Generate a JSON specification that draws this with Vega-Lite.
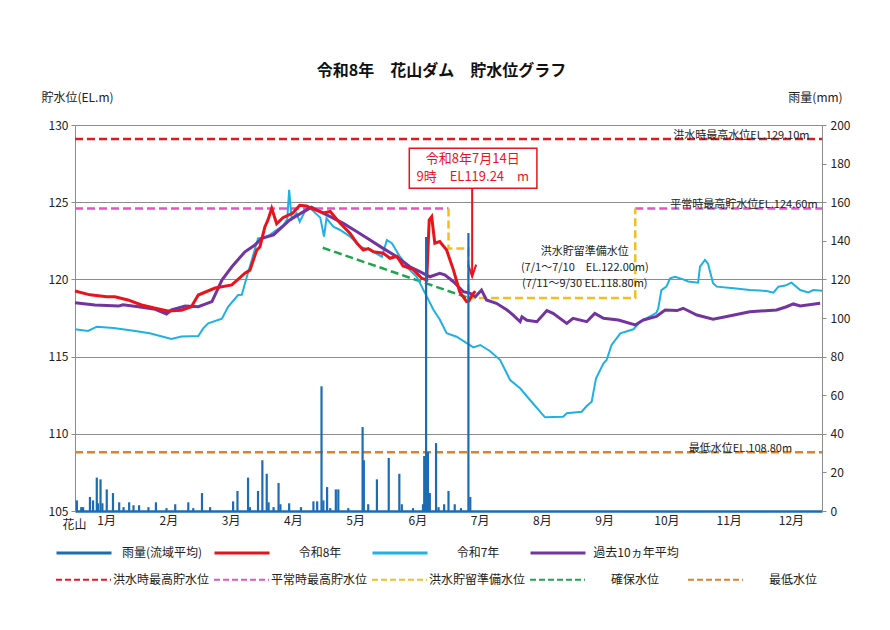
{
  "$schema": "https://vega.github.io/schema/vega-lite/v6.json",
  "width": 747,
  "height": 386,
  "autosize": {"type": "none"},
  "padding": {"left": 75, "top": 125, "right": 68, "bottom": 119},
  "background": "white",
  "title": {"text": "令和8年　花山ダム　貯水位グラフ", "font": "Noto Sans CJK JP", "fontSize": 16, "fontWeight": "bold", "color": "#111", "offset": 12, "dx": -7},
  "config": {"view": {"stroke": null}, "font": "Noto Sans CJK JP"},
  "datasets": {
    "lv": [
      {"s":"令和7年","t":0,"v":116.77},{"s":"令和7年","t":0.21,"v":116.66},{"s":"令和7年","t":0.35,"v":116.94},{"s":"令和7年","t":0.62,"v":116.85},{"s":"令和7年","t":0.94,"v":116.68},{"s":"令和7年","t":1.2,"v":116.51},{"s":"令和7年","t":1.55,"v":116.14},{"s":"令和7年","t":1.71,"v":116.3},{"s":"令和7年","t":1.98,"v":116.33},{"s":"令和7年","t":2.06,"v":116.83},{"s":"令和7年","t":2.14,"v":117.15},{"s":"令和7年","t":2.36,"v":117.45},{"s":"令和7年","t":2.46,"v":118.23},{"s":"令和7年","t":2.62,"v":118.99},{"s":"令和7年","t":2.68,"v":119.0},{"s":"令和7年","t":2.76,"v":120.17},{"s":"令和7年","t":2.84,"v":121.26},{"s":"令和7年","t":2.94,"v":122.66},{"s":"令和7年","t":3.05,"v":122.73},{"s":"令和7年","t":3.13,"v":122.88},{"s":"令和7年","t":3.35,"v":123.52},{"s":"令和7年","t":3.41,"v":123.9},{"s":"令和7年","t":3.44,"v":125.8},{"s":"令和7年","t":3.48,"v":123.9},{"s":"令和7年","t":3.56,"v":124.28},{"s":"令和7年","t":3.61,"v":123.74},{"s":"令和7年","t":3.69,"v":124.38},{"s":"令和7年","t":3.78,"v":124.6},{"s":"令和7年","t":3.94,"v":124.0},{"s":"令和7年","t":4.0,"v":122.77},{"s":"令和7年","t":4.04,"v":123.96},{"s":"令和7年","t":4.15,"v":123.41},{"s":"令和7年","t":4.26,"v":123.2},{"s":"令和7年","t":4.42,"v":122.77},{"s":"令和7年","t":4.58,"v":122.12},{"s":"令和7年","t":4.74,"v":121.9},{"s":"令和7年","t":4.93,"v":121.47},{"s":"令和7年","t":5.01,"v":122.55},{"s":"令和7年","t":5.09,"v":122.34},{"s":"令和7年","t":5.22,"v":121.47},{"s":"令和7年","t":5.38,"v":120.6},{"s":"令和7年","t":5.49,"v":120.17},{"s":"令和7年","t":5.65,"v":118.9},{"s":"令和7年","t":5.76,"v":118.02},{"s":"令和7年","t":5.86,"v":117.4},{"s":"令和7年","t":5.97,"v":116.51},{"s":"令和7年","t":6.13,"v":116.29},{"s":"令和7年","t":6.4,"v":115.6},{"s":"令和7年","t":6.51,"v":115.75},{"s":"令和7年","t":6.67,"v":115.35},{"s":"令和7年","t":6.83,"v":114.78},{"s":"令和7年","t":6.99,"v":113.48},{"s":"令和7年","t":7.15,"v":112.95},{"s":"令和7年","t":7.31,"v":112.19},{"s":"令和7年","t":7.55,"v":111.07},{"s":"令和7年","t":7.84,"v":111.11},{"s":"令和7年","t":7.9,"v":111.33},{"s":"令和7年","t":8.14,"v":111.43},{"s":"令和7年","t":8.22,"v":111.8},{"s":"令和7年","t":8.3,"v":112.08},{"s":"令和7年","t":8.37,"v":113.59},{"s":"令和7年","t":8.49,"v":114.57},{"s":"令和7年","t":8.54,"v":114.78},{"s":"令和7年","t":8.62,"v":115.75},{"s":"令和7年","t":8.76,"v":116.51},{"s":"令和7年","t":8.97,"v":116.77},{"s":"令和7年","t":9.08,"v":117.26},{"s":"令和7年","t":9.34,"v":117.84},{"s":"令和7年","t":9.37,"v":118.13},{"s":"令和7年","t":9.42,"v":119.31},{"s":"令和7年","t":9.5,"v":119.53},{"s":"令和7年","t":9.56,"v":120.07},{"s":"令和7年","t":9.64,"v":120.17},{"s":"令和7年","t":9.77,"v":120.0},{"s":"令和7年","t":9.85,"v":119.87},{"s":"令和7年","t":10.01,"v":119.79},{"s":"令和7年","t":10.04,"v":120.82},{"s":"令和7年","t":10.12,"v":121.26},{"s":"令和7年","t":10.17,"v":121.0},{"s":"令和7年","t":10.25,"v":119.75},{"s":"令和7年","t":10.31,"v":119.53},{"s":"令和7年","t":10.58,"v":119.42},{"s":"令和7年","t":10.84,"v":119.31},{"s":"令和7年","t":11.11,"v":119.25},{"s":"令和7年","t":11.22,"v":119.14},{"s":"令和7年","t":11.3,"v":119.53},{"s":"令和7年","t":11.41,"v":119.6},{"s":"令和7年","t":11.51,"v":119.79},{"s":"令和7年","t":11.65,"v":119.31},{"s":"令和7年","t":11.78,"v":119.16},{"s":"令和7年","t":11.86,"v":119.31},{"s":"令和7年","t":12,"v":119.27},
      {"s":"過去10ヵ年平均","t":0,"v":118.49},{"s":"過去10ヵ年平均","t":0.32,"v":118.34},{"s":"過去10ヵ年平均","t":0.7,"v":118.27},{"s":"過去10ヵ年平均","t":0.77,"v":118.35},{"s":"過去10ヵ年平均","t":1.02,"v":118.23},{"s":"過去10ヵ年平均","t":1.29,"v":118.06},{"s":"過去10ヵ年平均","t":1.47,"v":117.76},{"s":"過去10ヵ年平均","t":1.55,"v":118.02},{"s":"過去10ヵ年平均","t":1.77,"v":118.28},{"s":"過去10ヵ年平均","t":1.98,"v":118.23},{"s":"過去10ヵ年平均","t":2.2,"v":118.56},{"s":"過去10ヵ年平均","t":2.36,"v":119.96},{"s":"過去10ヵ年平均","t":2.52,"v":120.82},{"s":"過去10ヵ年平均","t":2.73,"v":121.79},{"s":"過去10ヵ年平均","t":2.89,"v":122.23},{"s":"過去10ヵ年平均","t":3.0,"v":122.66},{"s":"過去10ヵ年平均","t":3.19,"v":122.88},{"s":"過去10ヵ年平均","t":3.45,"v":123.85},{"s":"過去10ヵ年平均","t":3.72,"v":124.5},{"s":"過去10ヵ年平均","t":3.8,"v":124.67},{"s":"過去10ヵ年平均","t":3.94,"v":124.38},{"s":"過去10ヵ年平均","t":4.1,"v":124.06},{"s":"過去10ヵ年平均","t":4.31,"v":123.63},{"s":"過去10ヵ年平均","t":4.53,"v":123.09},{"s":"過去10ヵ年平均","t":4.74,"v":122.55},{"s":"過去10ヵ年平均","t":4.95,"v":122.01},{"s":"過去10ヵ年平均","t":5.17,"v":121.47},{"s":"過去10ヵ年平均","t":5.38,"v":120.82},{"s":"過去10ヵ年平均","t":5.54,"v":120.5},{"s":"過去10ヵ年平均","t":5.7,"v":120.17},{"s":"過去10ヵ年平均","t":5.86,"v":120.39},{"s":"過去10ヵ年平均","t":5.94,"v":120.3},{"s":"過去10ヵ年平均","t":6.08,"v":119.85},{"s":"過去10ヵ年平均","t":6.24,"v":119.2},{"s":"過去10ヵ年平均","t":6.35,"v":119.1},{"s":"過去10ヵ年平均","t":6.43,"v":118.88},{"s":"過去10ヵ年平均","t":6.53,"v":119.31},{"s":"過去10ヵ年平均","t":6.61,"v":118.67},{"s":"過去10ヵ年平均","t":6.77,"v":118.45},{"s":"過去10ヵ年平均","t":6.94,"v":118.02},{"s":"過去10ヵ年平均","t":7.04,"v":117.69},{"s":"過去10ヵ年平均","t":7.15,"v":117.26},{"s":"過去10ヵ年平均","t":7.18,"v":117.58},{"s":"過去10ヵ年平均","t":7.26,"v":117.35},{"s":"過去10ヵ年平均","t":7.42,"v":117.26},{"s":"過去10ヵ年平均","t":7.58,"v":117.98},{"s":"過去10ヵ年平均","t":7.68,"v":117.8},{"s":"過去10ヵ年平均","t":7.9,"v":117.15},{"s":"過去10ヵ年平均","t":8.0,"v":117.48},{"s":"過去10ヵ年平均","t":8.22,"v":117.26},{"s":"過去10ヵ年平均","t":8.35,"v":117.8},{"s":"過去10ヵ年平均","t":8.49,"v":117.48},{"s":"過去10ヵ年平均","t":8.73,"v":117.37},{"s":"過去10ヵ年平均","t":9.0,"v":117.05},{"s":"過去10ヵ年平均","t":9.13,"v":117.37},{"s":"過去10ヵ年平均","t":9.34,"v":117.6},{"s":"過去10ヵ年平均","t":9.48,"v":118.02},{"s":"過去10ヵ年平均","t":9.67,"v":117.98},{"s":"過去10ヵ年平均","t":9.77,"v":118.13},{"s":"過去10ヵ年平均","t":9.99,"v":117.69},{"s":"過去10ヵ年平均","t":10.25,"v":117.42},{"s":"過去10ヵ年平均","t":10.47,"v":117.6},{"s":"過去10ヵ年平均","t":10.84,"v":117.91},{"s":"過去10ヵ年平均","t":11.27,"v":118.02},{"s":"過去10ヵ年平均","t":11.43,"v":118.23},{"s":"過去10ヵ年平均","t":11.54,"v":118.41},{"s":"過去10ヵ年平均","t":11.65,"v":118.28},{"s":"過去10ヵ年平均","t":11.97,"v":118.45},
      {"s":"令和8年","t":0,"v":119.25},{"s":"令和8年","t":0.24,"v":119.0},{"s":"令和8年","t":0.51,"v":118.88},{"s":"令和8年","t":0.64,"v":118.88},{"s":"令和8年","t":0.85,"v":118.67},{"s":"令和8年","t":1.07,"v":118.34},{"s":"令和8年","t":1.29,"v":118.13},{"s":"令和8年","t":1.49,"v":117.95},{"s":"令和8年","t":1.71,"v":118.0},{"s":"令和8年","t":1.87,"v":118.23},{"s":"令和8年","t":1.98,"v":118.99},{"s":"令和8年","t":2.25,"v":119.44},{"s":"令和8年","t":2.52,"v":119.64},{"s":"令和8年","t":2.73,"v":120.4},{"s":"令和8年","t":2.81,"v":120.6},{"s":"令和8年","t":2.92,"v":121.9},{"s":"令和8年","t":2.97,"v":122.1},{"s":"令和8年","t":3.05,"v":123.4},{"s":"令和8年","t":3.1,"v":123.85},{"s":"令和8年","t":3.16,"v":124.6},{"s":"令和8年","t":3.24,"v":123.6},{"s":"令和8年","t":3.34,"v":124.0},{"s":"令和8年","t":3.5,"v":124.3},{"s":"令和8年","t":3.61,"v":124.8},{"s":"令和8年","t":3.72,"v":124.75},{"s":"令和8年","t":3.8,"v":124.6},{"s":"令和8年","t":3.99,"v":124.3},{"s":"令和8年","t":4.1,"v":124.4},{"s":"令和8年","t":4.26,"v":123.63},{"s":"令和8年","t":4.42,"v":122.98},{"s":"令和8年","t":4.53,"v":122.34},{"s":"令和8年","t":4.63,"v":121.9},{"s":"令和8年","t":4.71,"v":122.0},{"s":"令和8年","t":4.79,"v":121.8},{"s":"令和8年","t":4.95,"v":121.7},{"s":"令和8年","t":5.06,"v":121.37},{"s":"令和8年","t":5.17,"v":121.5},{"s":"令和8年","t":5.27,"v":120.87},{"s":"令和8年","t":5.43,"v":120.65},{"s":"令和8年","t":5.57,"v":120.07},{"s":"令和8年","t":5.65,"v":119.96},{"s":"令和8年","t":5.69,"v":123.85},{"s":"令和8年","t":5.73,"v":124.06},{"s":"令和8年","t":5.78,"v":122.34},{"s":"令和8年","t":5.86,"v":122.45},{"s":"令和8年","t":5.97,"v":121.9},{"s":"令和8年","t":6.08,"v":120.6},{"s":"令和8年","t":6.18,"v":119.2},{"s":"令和8年","t":6.29,"v":118.56},{"s":"令和8年","t":6.33,"v":118.6},{"s":"令和8年","t":6.38,"v":119.0},{"s":"令和8年","t":6.43,"v":119.24}
    ],
    "rain": [
      {"t":0.03,"r":5.5},{"t":0.1,"r":2},{"t":0.13,"r":2},{"t":0.24,"r":7.3},{"t":0.29,"r":5.5},{"t":0.35,"r":17.3},{"t":0.37,"r":4},{"t":0.41,"r":16.4},{"t":0.44,"r":4},{"t":0.51,"r":11.2},{"t":0.61,"r":9.3},{"t":0.71,"r":4.5},{"t":0.78,"r":2},{"t":0.87,"r":4.5},{"t":0.94,"r":3},{"t":1.03,"r":3},{"t":1.18,"r":2},{"t":1.3,"r":4.5},{"t":1.47,"r":1.5},{"t":1.61,"r":3.5},{"t":1.82,"r":4.5},{"t":1.9,"r":1.5},{"t":2.04,"r":9.3},{"t":2.17,"r":2},{"t":2.54,"r":5},{"t":2.61,"r":10.4},{"t":2.78,"r":17.3},{"t":2.81,"r":2},{"t":2.94,"r":10.4},{"t":3.01,"r":26.3},{"t":3.08,"r":19.3},{"t":3.11,"r":4.5},{"t":3.19,"r":2},{"t":3.27,"r":14.5},{"t":3.3,"r":3.5},{"t":3.44,"r":4},{"t":3.63,"r":2},{"t":3.83,"r":5},{"t":3.89,"r":5},{"t":3.96,"r":64.6},{"t":3.99,"r":5.5},{"t":4.05,"r":12.4},{"t":4.1,"r":1.5},{"t":4.19,"r":11.2},{"t":4.23,"r":11.2},{"t":4.39,"r":1.5},{"t":4.62,"r":43.5},{"t":4.64,"r":26.3},{"t":4.71,"r":3.5},{"t":4.85,"r":16.4},{"t":5.04,"r":27.5},{"t":5.21,"r":19.3},{"t":5.25,"r":3.5},{"t":5.43,"r":1.5},{"t":5.59,"r":3.5},{"t":5.61,"r":28.5},{"t":5.64,"r":142},{"t":5.67,"r":30.6},{"t":5.7,"r":9.3},{"t":5.8,"r":35.2},{"t":5.84,"r":2},{"t":5.93,"r":3.5},{"t":6.0,"r":10.4},{"t":6.1,"r":3.5},{"t":6.2,"r":1.5},{"t":6.32,"r":144},{"t":6.35,"r":7.3}
    ],
    "refs": [
      {"n":"洪水時最高貯水位","g":"a","o":1,"t":0,"v":129.1},{"n":"洪水時最高貯水位","g":"a","o":2,"t":12,"v":129.1},
      {"n":"平常時最高貯水位","g":"b1","o":1,"t":0,"v":124.6},{"n":"平常時最高貯水位","g":"b1","o":2,"t":6.0,"v":124.6},
      {"n":"平常時最高貯水位","g":"b2","o":1,"t":9.0,"v":124.6},{"n":"平常時最高貯水位","g":"b2","o":2,"t":12,"v":124.6},
      {"n":"洪水貯留準備水位","g":"c","o":1,"t":6.0,"v":124.6},{"n":"洪水貯留準備水位","g":"c","o":2,"t":6.0,"v":122.0},{"n":"洪水貯留準備水位","g":"c","o":3,"t":6.32,"v":122.0},{"n":"洪水貯留準備水位","g":"c","o":4,"t":6.32,"v":118.8},{"n":"洪水貯留準備水位","g":"c","o":5,"t":9.0,"v":118.8},{"n":"洪水貯留準備水位","g":"c","o":6,"t":9.0,"v":124.6},
      {"n":"確保水位","g":"d","o":1,"t":3.98,"v":122.05},{"n":"確保水位","g":"d","o":2,"t":6.32,"v":118.8},
      {"n":"最低水位","g":"e","o":1,"t":0,"v":108.8},{"n":"最低水位","g":"e","o":2,"t":12,"v":108.8}
    ]
  },
  "encoding": {
    "x": {
      "field": "t", "type": "quantitative",
      "scale": {"domain": [0, 12], "nice": false, "zero": false},
      "axis": {
        "values": [0.5, 1.5, 2.5, 3.5, 4.5, 5.5, 6.5, 7.5, 8.5, 9.5, 10.5, 11.5],
        "labelExpr": "format(datum.value + 0.5, 'd') + '月'",
        "grid": false, "ticks": false, "labelPadding": 4, "labelOverlap": false,
        "labelFontSize": 12, "labelColor": "#222",
        "domainColor": "#1c6cb4", "domainWidth": 2.5,
        "title": "花山", "titleX": -1, "titleY": 13, "titleAlign": "center", "titleBaseline": "middle",
        "titleFontSize": 12, "titleFontWeight": "normal", "titleColor": "#222"
      }
    }
  },
  "layer": [
    {
      "encoding": {
        "y": {
          "field": "v", "type": "quantitative",
          "scale": {"domain": [105, 130], "nice": false, "zero": false},
          "axis": {
            "values": [105, 110, 115, 120, 125, 130],
            "grid": true, "gridColor": "#8c8c8c", "gridWidth": 1,
            "domainColor": "#8c8c8c", "tickColor": "#8c8c8c", "tickSize": 4, "labelPadding": 3,
            "labelFontSize": 12, "labelColor": "#222",
            "title": "貯水位(EL.m)", "titleAngle": 0, "titleX": 2, "titleY": -28,
            "titleAlign": "center", "titleBaseline": "middle",
            "titleFontSize": 12, "titleFontWeight": "normal", "titleColor": "#222"
          }
        }
      },
      "layer": [
        {
          "data": {"values": [{"t":1},{"t":2},{"t":3},{"t":4},{"t":5},{"t":6},{"t":7},{"t":8},{"t":9},{"t":10},{"t":11}]},
          "mark": {"type": "rule", "color": "#c6d3e6", "strokeWidth": 1.5},
          "encoding": {"y": {"datum": 105}, "y2": {"datum": 130}}
        },
        {
          "data": {"name": "refs"},
          "mark": {"type": "line", "strokeWidth": 2.5, "strokeDash": [8, 4]},
          "encoding": {
            "stroke": {
              "field": "n", "type": "nominal",
              "scale": {"domain": ["洪水時最高貯水位", "平常時最高貯水位", "洪水貯留準備水位", "確保水位", "最低水位"], "range": ["#e3191e", "#e453c8", "#f5bd20", "#22a350", "#e0802a"]},
              "legend": {
                "title": null, "orient": "none", "legendX": -20, "legendY": 426, "direction": "horizontal", "columns": 5,
                "symbolType": "stroke", "symbolSize": 3025, "symbolStrokeWidth": 2, "symbolDash": [6, 3],
                "labelAlign": "center", "labelOffset": 49, "columnPadding": 0, "gridAlign": "all", "padding": 0,
                "labelFont": "Noto Sans CJK JP", "labelFontSize": 12, "labelColor": "#222", "labelLimit": 200
              }
            },
            "detail": {"field": "g"},
            "order": {"field": "o"}
          }
        },
        {
          "data": {"name": "lv"},
          "transform": [{"filter": "datum.s === '令和7年'"}],
          "mark": {"type": "line", "strokeWidth": 2},
          "encoding": {
            "color": {
              "field": "s", "type": "nominal",
              "scale": {"domain": ["雨量(流域平均)", "令和8年", "令和7年", "過去10ヵ年平均"], "range": ["#1c6cb4", "#e8141b", "#1fb0e4", "#7434a0"]},
              "legend": {
                "title": null, "orient": "none", "legendX": -20, "legendY": 399, "direction": "horizontal", "columns": 4,
                "symbolType": "stroke", "symbolSize": 3025, "symbolStrokeWidth": 3,
                "labelAlign": "center", "labelOffset": 49, "columnPadding": 3, "gridAlign": "all", "padding": 0,
                "labelFont": "Noto Sans CJK JP", "labelFontSize": 12, "labelColor": "#222", "labelLimit": 200
              }
            }
          }
        },
        {
          "data": {"name": "lv"},
          "transform": [{"filter": "datum.s === '過去10ヵ年平均'"}],
          "mark": {"type": "line", "strokeWidth": 3},
          "encoding": {
            "color": {
              "field": "s", "type": "nominal",
              "scale": {"domain": ["雨量(流域平均)", "令和8年", "令和7年", "過去10ヵ年平均"], "range": ["#1c6cb4", "#e8141b", "#1fb0e4", "#7434a0"]}
            }
          }
        },
        {
          "data": {"name": "lv"},
          "transform": [{"filter": "datum.s === '令和8年'"}],
          "mark": {"type": "line", "strokeWidth": 3},
          "encoding": {
            "color": {
              "field": "s", "type": "nominal",
              "scale": {"domain": ["雨量(流域平均)", "令和8年", "令和7年", "過去10ヵ年平均"], "range": ["#1c6cb4", "#e8141b", "#1fb0e4", "#7434a0"]}
            }
          }
        },
        {
          "data": {"values": [
            {"t": 11.8, "v": 129.1, "label": "洪水時最高水位EL.129.10m"},
            {"t": 11.93, "v": 124.6, "label": "平常時最高貯水位EL.124.60m"},
            {"t": 11.52, "v": 108.8, "label": "最低水位EL.108.80m"}
          ]},
          "mark": {"type": "text", "align": "right", "baseline": "alphabetic", "fontSize": 11, "color": "#222"},
          "encoding": {"text": {"field": "label"}}
        },
        {
          "data": {"values": [{"t": 8.19, "v": 121.77, "label": "洪水貯留準備水位\n(7/1～7/10　EL.122.00m)\n(7/11～9/30 EL.118.80m)"}]},
          "mark": {"type": "text", "align": "center", "baseline": "middle", "fontSize": 11, "lineHeight": 16, "lineBreak": "\n", "color": "#222"},
          "encoding": {"text": {"field": "label"}}
        },
        {
          "data": {"values": [{"t": 5.37, "t2": 7.42, "v": 128.49, "v2": 125.9}]},
          "mark": {"type": "rect", "fill": "white", "stroke": "#e8141b", "strokeWidth": 1.5},
          "encoding": {"x2": {"field": "t2"}, "y2": {"field": "v2"}}
        },
        {
          "data": {"values": [{"t": 6.39, "v": 127.8, "label": "令和8年7月14日\n9時　EL119.24　m"}]},
          "mark": {"type": "text", "align": "center", "baseline": "middle", "fontSize": 13, "lineHeight": 18, "lineBreak": "\n", "color": "#e8141b"},
          "encoding": {"text": {"field": "label"}}
        },
        {
          "data": {"values": [{"t": 6.38, "v": 125.9, "v2": 120.25}]},
          "mark": {"type": "rule", "color": "#e8141b", "strokeWidth": 2},
          "encoding": {"y2": {"field": "v2"}}
        },
        {
          "data": {"values": [{"t": 6.38, "v": 120.18}]},
          "mark": {"type": "point", "shape": "M-1,-3L0,0L1,-3", "size": 64, "filled": false, "stroke": "#e8141b", "strokeWidth": 2, "opacity": 1}
        }
      ]
    },
    {
      "data": {"name": "rain"},
      "mark": {"type": "rule", "strokeWidth": 2.2},
      "encoding": {
        "y": {
          "field": "r", "type": "quantitative",
          "scale": {"domain": [0, 200], "nice": false},
          "axis": {
            "orient": "right", "values": [0, 20, 40, 60, 80, 100, 120, 140, 160, 180, 200],
            "grid": false, "domainColor": "#8c8c8c", "tickColor": "#8c8c8c", "tickSize": 4, "labelPadding": 4,
            "labelFontSize": 12, "labelColor": "#222",
            "title": "雨量(mm)", "titleAngle": 0, "titleX": -7, "titleY": -28,
            "titleAlign": "center", "titleBaseline": "middle",
            "titleFontSize": 12, "titleFontWeight": "normal", "titleColor": "#222"
          }
        },
        "y2": {"datum": 0},
        "color": {
          "datum": "雨量(流域平均)", "type": "nominal",
          "scale": {"domain": ["雨量(流域平均)", "令和8年", "令和7年", "過去10ヵ年平均"], "range": ["#1c6cb4", "#e8141b", "#1fb0e4", "#7434a0"]}
        }
      }
    }
  ],
  "resolve": {"scale": {"y": "independent"}, "axis": {"y": "independent"}}
}
